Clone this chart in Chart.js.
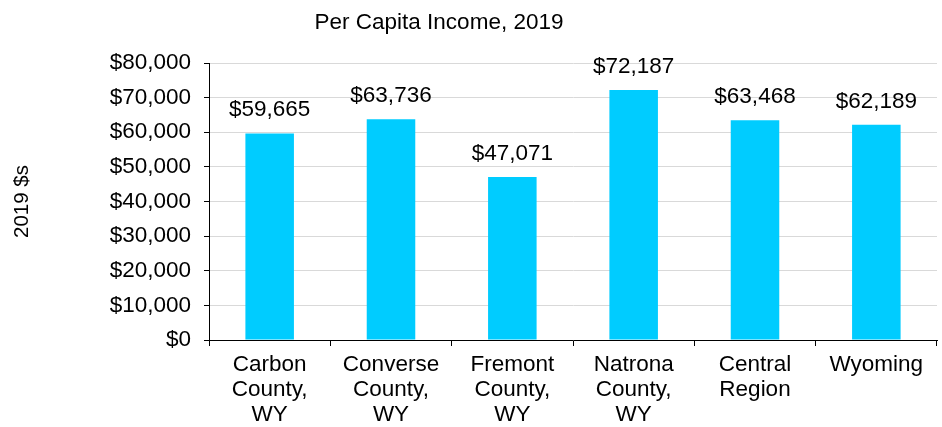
<!DOCTYPE html>
<html>
<head>
<meta charset="utf-8">
<script src="https://cdn.jsdelivr.net/npm/chart.js@4/dist/chart.umd.min.js"></script>
<style>
  html, body { margin: 0; padding: 0; background: #fff; }
  #wrap { width: 942px; height: 427px; }
</style>
</head>
<body>
<div id="wrap"><canvas id="myChart"></canvas></div>
<script>
const categories = [
    ["Carbon", "County,", "WY"],
    ["Converse", "County,", "WY"],
    ["Fremont", "County,", "WY"],
    ["Natrona", "County,", "WY"],
    ["Central", "Region"],
    ["Wyoming"]
];
const income = [59665, 63736, 47071, 72187, 63468, 62189];
const yTicks = [0, 10000, 20000, 30000, 40000, 50000, 60000, 70000, 80000];

const money = v => '$' + v.toLocaleString('en-US');
const FONT = "'Liberation Sans', Arial, sans-serif";

// title and bar values drawn on the canvas
const extras = {
    id: 'extras',
    afterDraw(chart) {
        const c = chart.ctx;
        c.save();
        c.fillStyle = '#000';
        c.textAlign = 'center';
        c.textBaseline = 'alphabetic';
        c.font = '22.5px ' + FONT;
        c.fillText('Per Capita Income, 2019', 439, 29);
        const meta = chart.getDatasetMeta(0);
        meta.data.forEach((bar, i) => {
            c.fillText(money(income[i]), bar.x, bar.y - 17);
        });
        c.restore();
    }
};

const ctx = document.getElementById('myChart').getContext('2d');
const myChart = new Chart(ctx, {
    type: 'bar',
    data: {
        labels: categories,
        datasets: [{
            data: income,
            backgroundColor: '#00CCFF',
            barPercentage: 0.4,
            categoryPercentage: 1.0
        }]
    },
    options: {
        responsive: true,
        maintainAspectRatio: false,
        animation: false,
        layout: { padding: { top: 63, right: 5, left: 0, bottom: 0 } },
        plugins: {
            legend: { display: false },
            tooltip: { enabled: false }
        },
        scales: {
            x: {
                grid: { offset: true, drawOnChartArea: false, color: '#000', tickLength: 6 },
                border: { color: '#000' },
                ticks: { color: '#000', font: { family: FONT, size: 22.5, lineHeight: 1.12 }, padding: 6, maxRotation: 0, autoSkip: false },
                afterFit(scale) { scale.height = 87; }
            },
            y: {
                min: 0,
                max: 80000,
                afterBuildTicks(scale) { scale.ticks = yTicks.map(v => ({ value: v })); },
                grid: { color: '#d9d9d9', tickColor: '#000', tickLength: 5 },
                border: { color: '#000' },
                ticks: { color: '#000', font: { family: FONT, size: 22.5 }, padding: 13, callback: v => money(v) },
                title: { display: true, text: '2019 $s', color: '#000', font: { family: FONT, size: 20.5 }, padding: { top: 10, bottom: 0 } },
                afterFit(scale) { scale.width = 209; }
            }
        }
    },
    plugins: [extras]
});
</script>
</body>
</html>
